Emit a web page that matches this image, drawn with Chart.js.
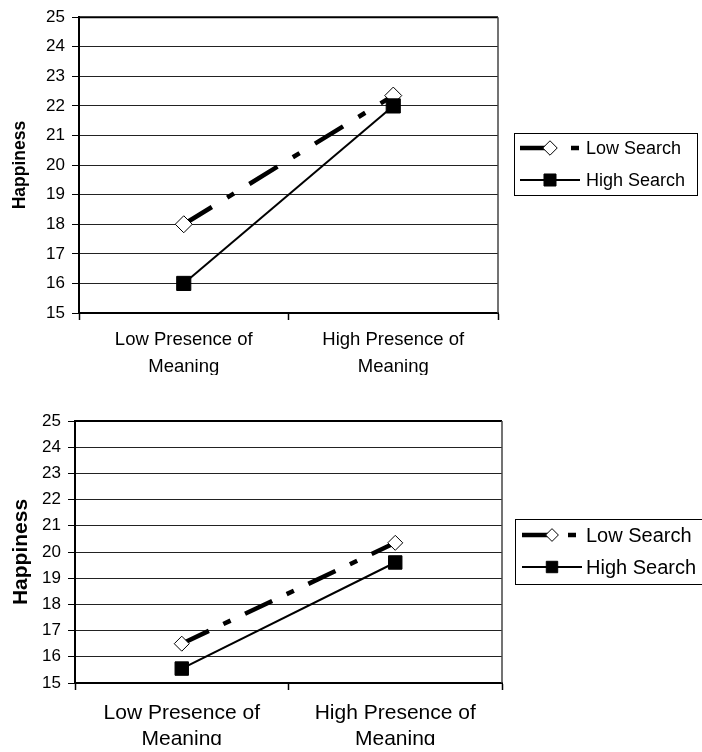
<!DOCTYPE html>
<html>
<head>
<meta charset="utf-8">
<script src="https://cdn.jsdelivr.net/npm/chart.js@4"></script>
<style>
  body { margin: 0; background: #fff; overflow: hidden; }
  canvas { display: block; }
</style>
</head>
<body>
<canvas id="topChart" width="702" height="380"></canvas>
<canvas id="bottomChart" width="702" height="372"></canvas>
<script>
const categories = [["Low Presence of", "Meaning"], ["High Presence of", "Meaning"]]
const seriesNames = ["Low Search", "High Search"]
const yMin = 15
const yMax = 25

// top panel
const topLowSearch = [18.0, 22.35]
const topHighSearch = [16.0, 22.0]

// bottom panel
const bottomLowSearch = [16.5, 20.35]
const bottomHighSearch = [15.55, 19.6]

const FONT = "'Liberation Sans', Arial, sans-serif"

// border on top and right of the plot, plus the legend box
const framePlugin = {
    id: "frame",
    afterDraw(chart, args, opts) {
        const { ctx, chartArea } = chart
        ctx.save()
        ctx.strokeStyle = "#000"
        ctx.lineWidth = 2
        ctx.beginPath()
        ctx.moveTo(chartArea.left, chartArea.top)
        ctx.lineTo(chartArea.right, chartArea.top)
        ctx.stroke()
        ctx.strokeStyle = "#444"
        ctx.lineWidth = 1.5
        ctx.beginPath()
        ctx.moveTo(chartArea.right, chartArea.top)
        ctx.lineTo(chartArea.right, chartArea.bottom)
        ctx.stroke()

        // legend
        const box = opts.box
        ctx.strokeStyle = "#000"
        ctx.lineWidth = 1
        ctx.strokeRect(box.x + 0.5, box.y + 0.5, box.w, box.h)
        ctx.font = `${opts.fontSize}px ${FONT}`
        ctx.textBaseline = "middle"
        ctx.fillStyle = "#000"
        chart.data.datasets.forEach((ds, i) => {
            const y = box.rows[i]
            ctx.save()
            ctx.lineWidth = ds.borderWidth
            ctx.setLineDash(ds.borderDash || [])
            ctx.lineCap = "butt"
            ctx.beginPath()
            ctx.moveTo(box.lineX, y)
            ctx.lineTo(box.lineX + 60, y)
            ctx.stroke()
            ctx.restore()

            ctx.save()
            ctx.fillStyle = ds.pointBackgroundColor
            ctx.strokeStyle = "#000"
            ctx.lineWidth = 1
            Chart.helpers.drawPoint(ctx, {
                pointStyle: ds.pointStyle,
                radius: ds.pointRadius * 0.85,
                rotation: 0,
                borderWidth: 1
            }, box.lineX + 30, y)
            ctx.restore()

            ctx.fillText(ds.label, box.textX, y + 1)
        })
        ctx.restore()
    }
}

const makeChart = (id, lowData, highData, cfg) => {
    const ctx = document.getElementById(id).getContext("2d")
    return new Chart(ctx, {
        type: "line",
        data: {
            labels: categories,
            datasets: [{
                label: seriesNames[0],
                data: lowData,
                borderColor: "#000",
                borderWidth: 4.5,
                borderDash: cfg.dash,
                pointStyle: "rectRot",
                pointRadius: cfg.diamond,
                pointBackgroundColor: "#fff",
                pointBorderColor: "#000",
                pointBorderWidth: 1,
                order: 1
            }, {
                label: seriesNames[1],
                data: highData,
                borderColor: "#000",
                borderWidth: 2,
                pointStyle: "rect",
                pointRadius: cfg.square,
                pointBackgroundColor: "#000",
                pointBorderColor: "#000",
                pointBorderWidth: 1,
                order: 0
            }]
        },
        options: {
            responsive: false,
            animation: false,
            layout: { padding: cfg.padding },
            plugins: {
                legend: { display: false },
                tooltip: { enabled: false },
                frame: { box: cfg.box, fontSize: cfg.legendFont }
            },
            scales: {
                x: {
                    offset: true,
                    grid: { offset: true, drawOnChartArea: false, drawTicks: true, tickLength: 7, tickColor: "#000", tickWidth: 1.5 },
                    border: { display: true, color: "#000", width: 2 },
                    ticks: {
                        color: "#000",
                        padding: cfg.xPad,
                        maxRotation: 0,
                        font: { family: FONT, size: cfg.xFont, lineHeight: cfg.xLine }
                    },
                    afterFit: s => { s.height = 62 }
                },
                y: {
                    min: yMin,
                    max: yMax,
                    ticks: {
                        stepSize: 1,
                        color: "#000",
                        padding: 7,
                        font: { family: FONT, size: cfg.yFont }
                    },
                    grid: { color: "#222", lineWidth: 1, tickLength: 7, tickColor: "#000" },
                    border: { display: true, color: "#000", width: 2 },
                    title: {
                        display: true,
                        text: "Happiness",
                        color: "#000",
                        padding: { top: cfg.titlePad, bottom: 0 },
                        font: { family: FONT, size: cfg.titleFont, weight: "bold" }
                    },
                    afterFit: s => { s.width = cfg.yWidth }
                }
            }
        },
        plugins: [framePlugin]
    })
}

makeChart("topChart", topLowSearch, topHighSearch, {
    dash: [33, 18, 8, 18],
    diamond: 8.5,
    square: 10,
    padding: { left: 0, top: 15, right: 204, bottom: 380 - 313 - 62 },
    yWidth: 79,
    yFont: 17,
    xFont: 18.5,
    xLine: 1.46,
    xPad: 6,
    titleFont: 17.5,
    titlePad: 10,
    legendFont: 18,
    box: { x: 514, y: 133, w: 183, h: 62, rows: [148, 180], lineX: 520, textX: 586 }
})

makeChart("bottomChart", bottomLowSearch, bottomHighSearch, {
    dash: [30, 16, 8, 16],
    diamond: 7.5,
    square: 9.5,
    padding: { left: 0, top: 41, right: 200, bottom: 372 - 303 - 62 },
    yWidth: 75,
    yFont: 17,
    xFont: 21,
    xLine: 1.25,
    xPad: 10,
    titleFont: 21,
    titlePad: 9,
    legendFont: 20,
    box: { x: 515, y: 139, w: 200, h: 65, rows: [155, 187], lineX: 522, textX: 586 }
})
</script>
</body>
</html>
